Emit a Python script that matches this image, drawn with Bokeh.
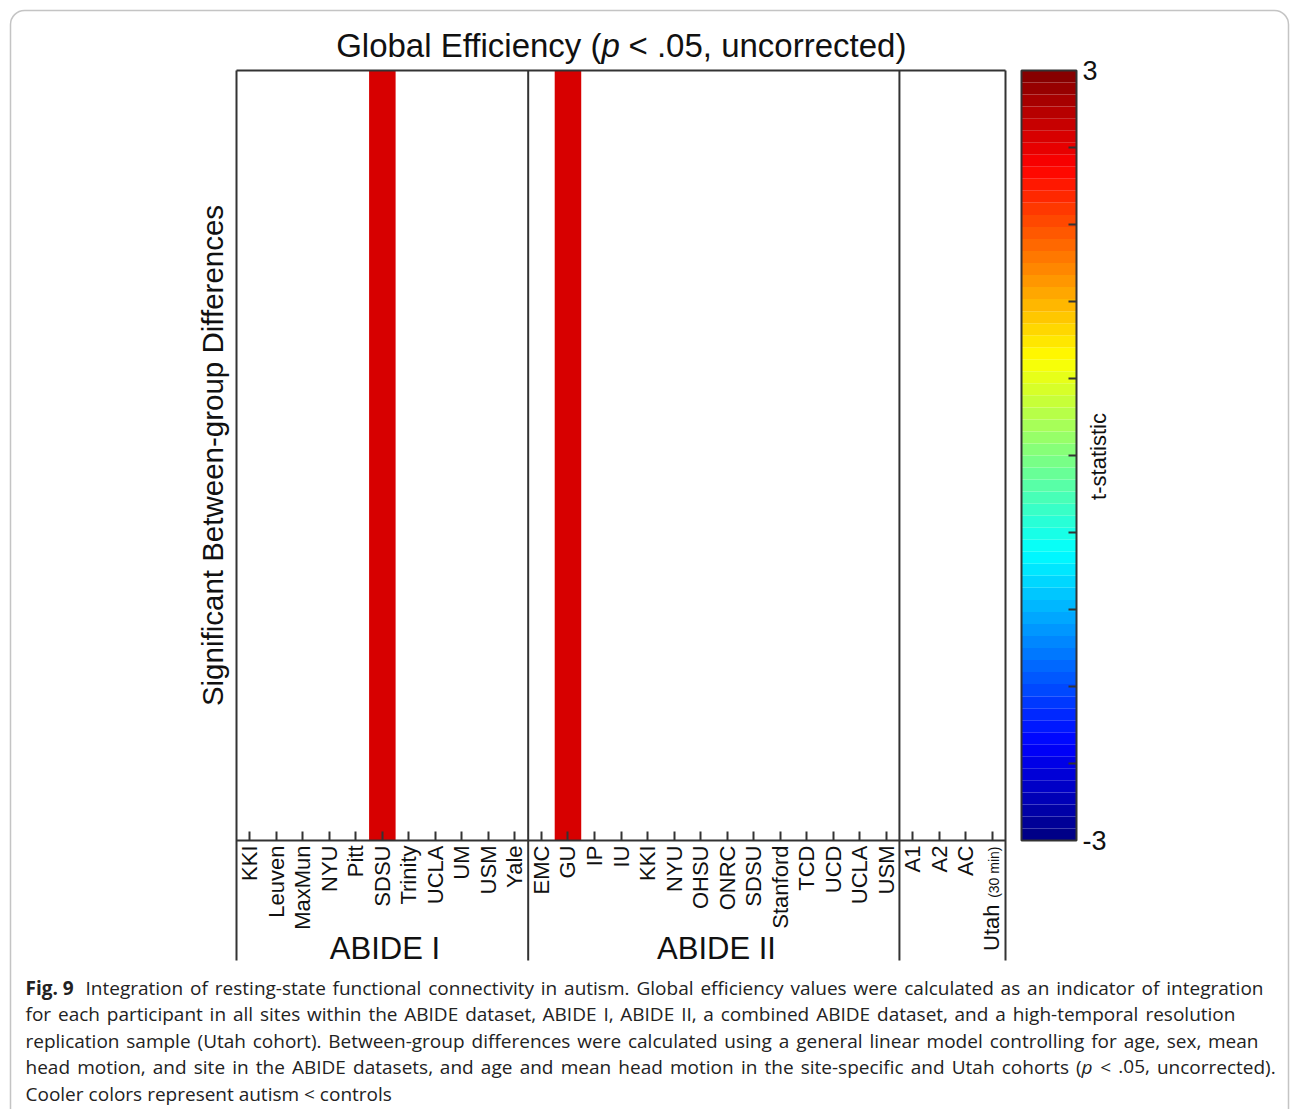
import numpy as np
from math import pi
from bokeh.plotting import figure
from bokeh.models import (Range1d, FixedTicker, LinearAxis, Label, BoxAnnotation,
                          ColumnDataSource)
from bokeh.transform import linear_cmap
from bokeh.embed import file_html
from bokeh.resources import INLINE

# ---------------- data ----------------
groups = ["ABIDE I"] * 11 + ["ABIDE II"] * 14 + ["Utah"] * 4
sites = ["KKI", "Leuven", "MaxMun", "NYU", "Pitt", "SDSU", "Trinity", "UCLA", "UM", "USM", "Yale",
         "EMC", "GU", "IP", "IU", "KKI", "NYU", "OHSU", "ONRC", "SDSU", "Stanford", "TCD", "UCD", "UCLA", "USM",
         "A1", "A2", "AC", "Utah (30 min)"]
# t-statistic of sites with a significant between-group difference (None = not significant)
t_stat = [None] * 5 + [2.5] + [None] * 6 + [2.5] + [None] * 16
group_labels = ["ABIDE I", "ABIDE II"]
cbar_low, cbar_high = -3, 3
cbar_minor = [-2.4, -1.8, -1.2, -0.6, 0, 0.6, 1.2, 1.8, 2.4]

# caption text (segments between * are italic)
cap_lines = [
    "Integration of resting-state functional connectivity in autism. Global efficiency values were calculated as an indicator of integration",
    "for each participant in all sites within the ABIDE dataset, ABIDE I, ABIDE II, a combined ABIDE dataset, and a high-temporal resolution",
    "replication sample (Utah cohort). Between-group differences were calculated using a general linear model controlling for age, sex, mean",
    "head motion, and site in the ABIDE datasets, and age and mean head motion in the site-specific and Utah cohorts (*p* < .05, uncorrected).",
    "Cooler colors represent autism < controls",
]

# ---------------- style / layout ----------------
SANS = "Liberation Sans"
CAP = "Open Sans"
INK = "#111111"
LINE = "#333333"
W, H = 1290, 1109
FL, FR, FT, FB = 236, 1005, 70, 840     # plot box in page pixels
N = len(sites)


def X(px):
    return (px - FL) / (FR - FL) * N - 0.5


def Y(py):
    return (FB - py) / (FB - FT)


def T(py):
    return cbar_low + (cbar_high - cbar_low) * (FB - py) / (FB - FT)


def jet(n):
    x = (np.arange(n) + 0.5) / n
    r = np.clip(1.5 - np.abs(4 * x - 3), 0, 1)
    g = np.clip(1.5 - np.abs(4 * x - 2), 0, 1)
    b = np.clip(1.5 - np.abs(4 * x - 1), 0, 1)
    return ["#%02x%02x%02x" % (int(round(255 * a)), int(round(255 * c)), int(round(255 * d)))
            for a, c, d in zip(r, g, b)]


palette = jet(64)

p = figure(width=W, height=H, x_range=Range1d(X(0), X(W)), y_range=Range1d(Y(H), Y(0)),
           output_backend="svg", toolbar_location=None,
           x_axis_type=None, y_axis_type=None, min_border=0)
p.title.visible = False
p.extra_y_ranges = {"t": Range1d(T(H), T(0))}
p.grid.visible = False
p.outline_line_color = None
p.background_fill_color = "white"
p.border_fill_color = "white"

# rounded page frame
p.add_layout(BoxAnnotation(left=X(10), right=X(1288), top=Y(10), bottom=Y(1140),
                           border_radius=14, fill_alpha=0, line_color="#3a3a3a", line_width=1.5))

# bars
idx = [i for i, t in enumerate(t_stat) if t is not None]
src = ColumnDataSource(dict(x=idx, t=[t_stat[i] for i in idx], top=[1.0] * len(idx)))
p.vbar(x="x", top="top", bottom=0, width=1.0, source=src, line_color=None,
       fill_color=linear_cmap("t", palette, cbar_low, cbar_high))

# box + group separators
bounds = [i - 0.5 for i in range(1, N) if groups[i] != groups[i - 1]]
vx = [-0.5] + bounds + [N - 0.5]
p.segment(x0=vx, x1=vx, y0=[1] * len(vx), y1=[Y(960)] * len(vx), line_color=LINE, line_width=2)
p.segment(x0=[-0.5, -0.5], x1=[N - 0.5, N - 0.5], y0=[0, 1], y1=[0, 1], line_color=LINE, line_width=2)

# x axis (ticks and labels)
xaxis = LinearAxis(ticker=FixedTicker(ticks=list(range(N))), fixed_location=0,
                   major_label_overrides={i: (s if s != "Utah (30 min)" else "") for i, s in enumerate(sites)},
                   major_label_orientation=pi / 2, major_label_standoff=5,
                   major_label_text_font=SANS, major_label_text_font_size="22px",
                   major_label_text_color=INK,
                   axis_line_color=None,
                   major_tick_in=9, major_tick_out=0, major_tick_line_color=LINE,
                   major_tick_line_width=2, minor_tick_line_color=None)
p.add_layout(xaxis, "below")

# Utah (30 min) tick label in two sizes
ui = sites.index("Utah (30 min)")
p.add_layout(Label(x=ui, y=Y(846), x_offset=2, text="(30 min)", angle=pi / 2, text_align="right",
                   text_baseline="middle", text_font=SANS, text_font_size="14px",
                   text_color=INK))
p.add_layout(Label(x=ui, y=Y(904), x_offset=-1, text="Utah", angle=pi / 2, text_align="right",
                   text_baseline="middle", text_font=SANS, text_font_size="22px",
                   text_color=INK))

# group labels
for g in group_labels:
    members = [i for i, gg in enumerate(groups) if gg == g]
    p.add_layout(Label(x=float(np.mean(members)) + 0.1, y=Y(948), text=g, text_align="center",
                       text_baseline="middle", text_font=SANS, text_font_size="31px",
                       text_color=INK))

# y label
p.add_layout(Label(x=X(212), y=Y(455), text="Significant Between-group Differences", angle=pi / 2,
                   text_align="center", text_baseline="middle", text_font=SANS,
                   text_font_size="29.5px", text_color=INK))

# title
p.add_layout(Label(x=X(601), y=Y(45), text="Global Efficiency (", text_align="right",
                   text_baseline="middle", text_font=SANS, text_font_size="33px", text_color=INK))
p.add_layout(Label(x=X(601), y=Y(45), text="p", text_align="left", text_font_style="italic",
                   text_baseline="middle", text_font=SANS, text_font_size="33px", text_color=INK))
p.add_layout(Label(x=X(628), y=Y(45), text="< .05, uncorrected)", text_align="left",
                   text_baseline="middle", text_font=SANS, text_font_size="33px", text_color=INK))

# colour bar drawn from the palette on its own t-statistic scale
edges = np.linspace(cbar_low, cbar_high, len(palette) + 1)
cl, cr = X(1021), X(1076)
p.quad(left=cl, right=cr, bottom=edges[:-1], top=edges[1:], fill_color=palette, line_color=None,
       y_range_name="t")
p.quad(left=[cl], right=[cr], bottom=[cbar_low], top=[cbar_high], fill_color=None,
       line_color=LINE, line_width=2, y_range_name="t")
caxis = LinearAxis(y_range_name="t", fixed_location=cr,
                   ticker=FixedTicker(ticks=[cbar_low, cbar_high], minor_ticks=cbar_minor),
                   major_label_overrides={cbar_low: "-3", cbar_high: "3"},
                   axis_line_color=None, major_tick_line_color=None,
                   minor_tick_in=8, minor_tick_out=0, minor_tick_line_color=LINE,
                   minor_tick_line_width=2, major_label_standoff=0,
                   major_label_text_font=SANS, major_label_text_font_size="27px",
                   major_label_text_color=INK)
p.add_layout(caxis, "right")
p.add_layout(Label(x=X(1098), y=Y(456), text="t-statistic", angle=pi / 2, text_align="center",
                   text_baseline="middle", text_font=SANS, text_font_size="22px",
                   text_color=INK))

# caption, justified word by word (Open Sans advance widths, units per em = 2048)
ADV = {" ": 532, "a": 1139, "b": 1255, "c": 975, "d": 1255, "e": 1149, "f": 694, "g": 1122,
       "h": 1257, "i": 518, "j": 518, "k": 1075, "l": 518, "m": 1905, "n": 1257, "o": 1237,
       "p": 1255, "q": 1255, "r": 836, "s": 977, "t": 723, "u": 1257, "v": 1026, "w": 1593,
       "x": 1073, "y": 1028, "z": 977, "A": 1296, "B": 1327, "C": 1292, "D": 1493, "E": 1139,
       "G": 1491, "H": 1511, "I": 571, "U": 1505, ".": 545, ",": 500, "(": 590, ")": 590,
       "-": 659, "<": 1171, "0": 1171, "5": 1171}
CAP_SIZE = 19


def tw(s):
    return sum(ADV.get(ch, 1100) for ch in s) / 2048 * CAP_SIZE


cap_y = [987, 1013, 1040, 1066, 1093]
cap_left = [85, 25, 25, 25, 25]
cap_right = [1263, 1235, 1258, 1275, None]
p.add_layout(Label(x=X(25), y=Y(cap_y[0]), text="Fig. 9", text_font_style="bold",
                   text_baseline="middle", text_font=CAP, text_font_size="%dpx" % CAP_SIZE,
                   text_color="#222222"))
for line, yy, x0, x1 in zip(cap_lines, cap_y, cap_left, cap_right):
    words = line.split(" ")
    plain = [w.replace("*", "") for w in words]
    if x1 is None:
        gap = tw(" ")
    else:
        gap = (x1 - x0 - sum(tw(w) for w in plain)) / (len(words) - 1)
    x = x0
    for w, pw in zip(words, plain):
        parts = w.split("*")
        xx = x
        for k, part in enumerate(parts):
            if part:
                p.add_layout(Label(x=X(xx), y=Y(yy), text=part, text_baseline="middle",
                                   text_font=CAP, text_font_size="%dpx" % CAP_SIZE,
                                   text_font_style="italic" if k % 2 else "normal",
                                   text_color="#222222"))
                xx += tw(part)
        x += tw(pw) + gap

open("out.html", "w").write(file_html(p, INLINE))
